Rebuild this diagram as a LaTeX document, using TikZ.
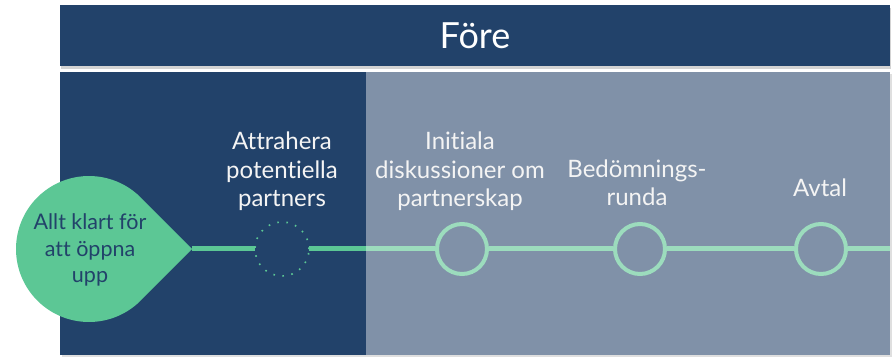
\documentclass[tikz,border=0pt]{standalone}
\usepackage{fontspec}
\setmainfont{Lato}[Ligatures={NoCommon}]
\usetikzlibrary{positioning}
\usetikzlibrary{calc}
\usetikzlibrary{shadows}

\definecolor{navy}{HTML}{22426A}
\definecolor{slate}{HTML}{8091A8}
\definecolor{mint}{HTML}{5CC795}
\definecolor{palemint}{HTML}{9CDCBD}
\definecolor{paper}{HTML}{F4F4F4}

\tikzset{
    milestone/.style={circle,draw=palemint,line width=4pt,fill=slate,
        minimum size=50pt,inner sep=0pt},
    steptext/.style={text=paper,font=\fontsize{24}{28.5}\selectfont,
        align=center,inner sep=0pt,text depth=0pt,anchor=south},
    track/.style={line width=5pt},
}

\begin{document}
\begin{tikzpicture}[x=1pt,y=-1pt]
    \useasboundingbox (0,0) rectangle (895,358);
    % header and panels
    \fill[navy,drop shadow={opacity=0.35,shadow xshift=1pt,shadow yshift=-3pt}]
        (60,5) rectangle (890,66);
    \node[text=white,font=\fontsize{36}{40}\selectfont] (title) at (475,36) {Före};
    \fill[slate,drop shadow={opacity=0.25,shadow xshift=2pt,shadow yshift=-2pt}]
        (60,72) rectangle (890,355);
    \fill[navy] (60,72) rectangle (366,355);

    % teardrop start
    \coordinate (tip) at (192,249);
    \fill[mint] (tip) -- ($(89,249)+(44.9:73)$) arc[start angle=44.9,end angle=315.1,radius=73] -- cycle;
    \node[text=navy,font=\fontsize{21.5}{26.5}\selectfont,align=center,
        inner sep=0pt,text depth=0pt,anchor=south] (start) at (90,283)
        {Allt klart för\\att öppna\\upp};

    % milestones
    \node[milestone,draw=mint,line width=1.6pt,dash pattern=on 1.6pt off 7.5pt,
        fill=navy,minimum size=54pt,outer sep=0pt] (m1) at (282,249) {};
    \node[milestone] (m2) at (462,249) {};
    \node[milestone] (m3) at (640,249) {};
    \node[milestone] (m4) at (821,249) {};
    \coordinate (split) at (366,249);
    \coordinate (end) at (890,249);

    % track
    \draw[track,mint] (tip) -- (m1.west);
    \draw[track,mint] (m1.east) -- (split);
    \draw[track,palemint] (split) -- (m2.west);
    \draw[track,palemint] (m2.east) -- (m3.west);
    \draw[track,palemint] (m3.east) -- (m4.west);
    \draw[track,palemint] (m4.east) -- (end);

    % labels
    \node[steptext] (l1) at (282,207) {Attrahera\\potentiella\\partners};
    \node[steptext] (l2) at (460,207) {Initiala\\diskussioner om\\partnerskap};
    \node[steptext] (l3) at (637,206) {Bedömnings-\\runda};
    \node[steptext] (l4) at (820,197) {Avtal};
\end{tikzpicture}
\end{document}
